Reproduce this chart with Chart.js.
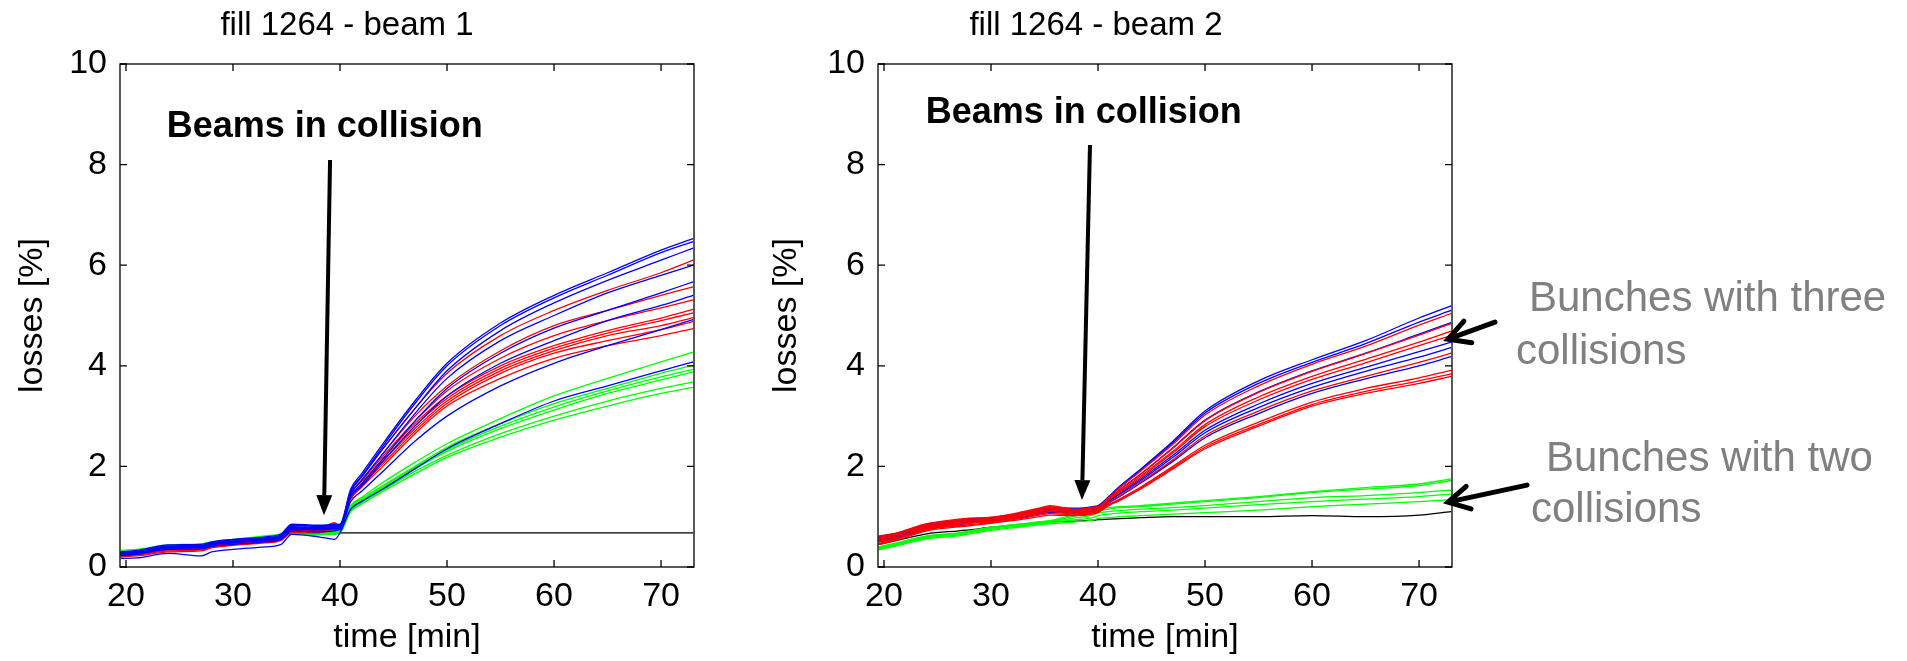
<!DOCTYPE html>
<html>
<head>
<meta charset="utf-8">
<script src="https://cdn.jsdelivr.net/npm/chart.js@4.4.0/dist/chart.umd.min.js"></script>
<style>
body { margin: 0; background: #fff; }
#wrap { position: relative; width: 1907px; height: 661px; overflow: hidden; background: #fff; }
#wrap canvas { position: absolute; top: 0; }
.note { position: absolute; font: 42px "Liberation Sans", Arial, sans-serif; color: #808080; line-height: 42px; white-space: nowrap; }
</style>
</head>
<body>
<div id="wrap">
  <canvas id="beam1" width="814" height="661" style="left:0px"></canvas>
  <canvas id="beam2" width="850" height="661" style="left:740px"></canvas>
  <div class="note" style="left:1529px;top:276px">Bunches with three</div>
  <div class="note" style="left:1516px;top:329px">collisions</div>
  <div class="note" style="left:1546px;top:436px">Bunches with two</div>
  <div class="note" style="left:1531px;top:487px">collisions</div>
</div>
<script>
// eixos
var xTicks = [20, 30, 40, 50, 60, 70];
var yTicks = [0, 2, 4, 6, 8, 10];

// tempos [min] : antes e depois da colisao
var tPre  = [19.5, 21, 24, 27, 28, 30, 33, 34.5, 35.5, 38, 39.5, 40];
var tPost = [41, 42, 44, 47, 50, 55, 60, 65, 70, 73];
var times = tPre.concat(tPost);

// beam 1 - perdas [%]
var b1Blue = [
  [0.30,0.33,0.44,0.45,0.50,0.55,0.60,0.66,0.85,0.83,0.84,0.85, 1.55,1.85,2.45,3.30,4.05,4.85,5.40,5.85,6.30,6.53],
  [0.28,0.31,0.42,0.43,0.48,0.54,0.58,0.64,0.83,0.81,0.82,0.83, 1.50,1.80,2.40,3.25,4.00,4.80,5.35,5.80,6.25,6.47],
  [0.27,0.30,0.40,0.42,0.47,0.52,0.57,0.62,0.80,0.79,0.80,0.81, 1.50,1.78,2.35,3.15,3.90,4.70,5.25,5.70,6.10,6.34],
  [0.25,0.29,0.39,0.40,0.46,0.50,0.55,0.60,0.78,0.77,0.79,0.80, 1.45,1.72,2.25,3.05,3.75,4.50,5.00,5.45,5.80,6.00],
  [0.26,0.28,0.38,0.40,0.45,0.49,0.54,0.59,0.76,0.75,0.78,0.79, 1.40,1.65,2.15,2.90,3.55,4.25,4.75,5.10,5.45,5.67],
  [0.24,0.27,0.37,0.39,0.44,0.48,0.53,0.58,0.75,0.74,0.76,0.78, 1.40,1.60,2.10,2.80,3.40,4.05,4.50,4.90,5.20,5.40],
  [0.22,0.25,0.35,0.36,0.41,0.45,0.50,0.55,0.72,0.70,0.72,0.75, 1.30,1.50,1.90,2.50,3.00,3.60,4.05,4.40,4.72,4.92],
  [0.17,0.18,0.27,0.22,0.30,0.35,0.40,0.45,0.65,0.60,0.55,0.68, 1.15,1.30,1.55,1.95,2.35,2.85,3.30,3.60,3.90,4.08]
];
var b1Red = [
  [0.28,0.30,0.40,0.42,0.46,0.51,0.56,0.61,0.78,0.76,0.88,0.82, 1.50,1.80,2.35,3.15,3.85,4.60,5.10,5.50,5.85,6.10],
  [0.27,0.29,0.38,0.40,0.45,0.50,0.55,0.60,0.76,0.75,0.86,0.81, 1.45,1.72,2.25,3.00,3.60,4.30,4.80,5.10,5.40,5.57],
  [0.26,0.28,0.37,0.39,0.44,0.49,0.54,0.59,0.75,0.74,0.85,0.80, 1.45,1.70,2.20,2.90,3.50,4.15,4.60,4.90,5.15,5.31],
  [0.25,0.27,0.36,0.38,0.43,0.48,0.53,0.58,0.74,0.73,0.84,0.79, 1.40,1.65,2.15,2.85,3.40,4.00,4.40,4.70,4.95,5.12],
  [0.24,0.26,0.35,0.37,0.42,0.47,0.52,0.57,0.73,0.72,0.82,0.78, 1.40,1.65,2.10,2.80,3.35,3.95,4.35,4.65,4.90,5.05],
  [0.23,0.25,0.34,0.36,0.41,0.46,0.51,0.56,0.72,0.71,0.80,0.77, 1.38,1.62,2.10,2.75,3.30,3.90,4.30,4.60,4.80,4.96],
  [0.22,0.24,0.32,0.34,0.40,0.45,0.50,0.55,0.70,0.70,0.78,0.76, 1.35,1.60,2.05,2.70,3.25,3.85,4.25,4.50,4.72,4.88],
  [0.20,0.22,0.30,0.32,0.38,0.43,0.48,0.53,0.68,0.68,0.75,0.75, 1.35,1.58,2.00,2.65,3.20,3.75,4.15,4.40,4.60,4.74]
];
var b1Green = [
  [0.33,0.35,0.44,0.46,0.50,0.55,0.62,0.66,0.75,0.72,0.73,0.74, 1.22,1.38,1.68,2.08,2.45,2.95,3.40,3.75,4.08,4.27],
  [0.30,0.32,0.41,0.43,0.47,0.52,0.58,0.62,0.72,0.70,0.71,0.72, 1.20,1.35,1.62,2.00,2.38,2.85,3.25,3.55,3.85,4.01],
  [0.28,0.30,0.39,0.41,0.45,0.50,0.56,0.60,0.70,0.68,0.69,0.71, 1.18,1.32,1.60,1.98,2.33,2.80,3.18,3.50,3.78,3.93],
  [0.26,0.28,0.37,0.39,0.43,0.48,0.54,0.58,0.68,0.66,0.68,0.70, 1.15,1.30,1.57,1.95,2.30,2.75,3.12,3.45,3.72,3.88],
  [0.24,0.26,0.35,0.37,0.41,0.46,0.52,0.56,0.67,0.65,0.67,0.69, 1.12,1.28,1.53,1.90,2.22,2.65,3.00,3.30,3.55,3.68],
  [0.22,0.25,0.33,0.35,0.40,0.45,0.50,0.55,0.66,0.64,0.66,0.68, 1.10,1.25,1.50,1.85,2.18,2.58,2.92,3.20,3.45,3.57]
];
var b1Black = [0.26,0.28,0.36,0.37,0.41,0.46,0.51,0.55,0.68,0.66,0.66,0.68, 0.68,0.68,0.68,0.68,0.68,0.68,0.68,0.68,0.68,0.68];

// beam 2 - perdas [%]
var b2Blue = [
  [0.60,0.66,0.85,0.93,0.96,0.98,1.08,1.15,1.18,1.17,1.20,1.22, 1.40,1.60,1.95,2.50,3.10,3.70,4.12,4.50,4.95,5.19],
  [0.58,0.64,0.83,0.91,0.94,0.97,1.06,1.13,1.16,1.15,1.18,1.20, 1.39,1.58,1.93,2.47,3.06,3.65,4.07,4.44,4.87,5.10],
  [0.56,0.62,0.81,0.89,0.92,0.95,1.04,1.11,1.14,1.13,1.16,1.18, 1.36,1.53,1.85,2.37,2.92,3.48,3.90,4.25,4.63,4.86],
  [0.54,0.60,0.79,0.87,0.90,0.93,1.02,1.09,1.12,1.11,1.14,1.16, 1.31,1.46,1.75,2.22,2.72,3.24,3.65,3.97,4.28,4.47],
  [0.52,0.58,0.77,0.85,0.88,0.92,1.00,1.07,1.10,1.09,1.12,1.14, 1.30,1.44,1.72,2.18,2.67,3.17,3.57,3.89,4.17,4.36],
  [0.50,0.56,0.75,0.84,0.87,0.91,0.99,1.05,1.08,1.07,1.10,1.12, 1.27,1.40,1.67,2.10,2.57,3.05,3.45,3.74,4.00,4.18]
];
var b2Red = [
  [0.62,0.67,0.86,0.95,0.97,0.99,1.10,1.17,1.22,1.14,1.19,1.20, 1.38,1.57,1.91,2.44,3.02,3.60,4.03,4.39,4.81,5.04],
  [0.59,0.65,0.84,0.93,0.95,0.97,1.08,1.15,1.20,1.12,1.17,1.18, 1.35,1.53,1.85,2.36,2.91,3.47,3.89,4.24,4.61,4.84],
  [0.57,0.63,0.82,0.91,0.93,0.95,1.06,1.13,1.18,1.10,1.15,1.16, 1.34,1.50,1.81,2.30,2.83,3.38,3.79,4.13,4.47,4.69],
  [0.55,0.61,0.80,0.89,0.91,0.93,1.04,1.11,1.16,1.09,1.13,1.15, 1.33,1.48,1.78,2.27,2.79,3.32,3.73,4.06,4.40,4.60],
  [0.52,0.58,0.78,0.87,0.89,0.91,1.02,1.09,1.13,1.07,1.11,1.13, 1.28,1.41,1.69,2.13,2.61,3.10,3.50,3.79,4.07,4.25],
  [0.50,0.56,0.76,0.85,0.87,0.90,1.00,1.06,1.10,1.05,1.09,1.11, 1.24,1.35,1.59,2.00,2.42,2.88,3.28,3.55,3.76,3.91],
  [0.47,0.54,0.74,0.82,0.84,0.88,0.97,1.03,1.06,1.03,1.07,1.09, 1.23,1.33,1.57,1.97,2.38,2.83,3.23,3.49,3.70,3.84],
  [0.45,0.52,0.72,0.80,0.82,0.87,0.95,1.00,1.03,1.02,1.05,1.08, 1.22,1.32,1.55,1.95,2.35,2.80,3.20,3.45,3.65,3.79]
];
var b2Green = [
  [0.40,0.47,0.62,0.68,0.72,0.79,0.86,0.90,0.92,1.05,1.10,1.15, 1.18,1.20,1.22,1.27,1.32,1.40,1.50,1.58,1.65,1.75],
  [0.39,0.46,0.61,0.67,0.71,0.78,0.85,0.89,0.91,1.02,1.08,1.12, 1.15,1.18,1.20,1.25,1.30,1.38,1.48,1.55,1.62,1.72],
  [0.37,0.44,0.60,0.66,0.70,0.77,0.84,0.88,0.90,0.98,1.03,1.07, 1.10,1.12,1.15,1.18,1.22,1.30,1.38,1.42,1.48,1.53],
  [0.36,0.43,0.58,0.64,0.68,0.75,0.82,0.86,0.88,0.94,0.98,1.02, 1.05,1.07,1.10,1.13,1.17,1.24,1.30,1.35,1.40,1.45],
  [0.34,0.41,0.56,0.62,0.66,0.73,0.80,0.84,0.86,0.90,0.93,0.96, 0.98,1.00,1.02,1.05,1.08,1.13,1.20,1.25,1.30,1.34]
];
var b2Black = [0.45,0.52,0.66,0.72,0.74,0.79,0.85,0.88,0.90,0.91,0.93,0.94, 0.95,0.96,0.98,1.00,1.00,1.00,1.02,1.00,1.03,1.10];

var FONT = '"Liberation Sans", Arial, sans-serif';

function linhas(grupo, cor) {
  return grupo.map(function (v) {
    return {
      data: times.map(function (t, i) { return { x: t, y: v[i] }; }),
      borderColor: cor, borderWidth: 1.3, pointRadius: 0, fill: false
    };
  });
}

// moldura + ticks para dentro (estilo matlab)
var moldura = {
  id: 'moldura',
  afterDatasetsDraw: function (chart) {
    var a = chart.chartArea, ctx = chart.ctx, sx = chart.scales.x, sy = chart.scales.y, L = 7;
    ctx.save();
    ctx.strokeStyle = '#000';
    ctx.lineWidth = 1.3;
    ctx.strokeRect(a.left, a.top, a.right - a.left, a.bottom - a.top);
    ctx.beginPath();
    xTicks.forEach(function (v) {
      var p = sx.getPixelForValue(v);
      ctx.moveTo(p, a.bottom); ctx.lineTo(p, a.bottom - L);
      ctx.moveTo(p, a.top); ctx.lineTo(p, a.top + L);
    });
    yTicks.forEach(function (v) {
      var p = sy.getPixelForValue(v);
      ctx.moveTo(a.left, p); ctx.lineTo(a.left + L, p);
      ctx.moveTo(a.right, p); ctx.lineTo(a.right - L, p);
    });
    ctx.stroke();
    ctx.restore();
  }
};

// anotacoes: texto + setas
var notas = {
  id: 'notas',
  afterDraw: function (chart, args, o) {
    if (!o || !o.texto) return;
    var ctx = chart.ctx, sx = chart.scales.x, sy = chart.scales.y, a = chart.chartArea;
    ctx.save();
    ctx.fillStyle = '#000';
    ctx.strokeStyle = '#000';
    ctx.font = 'bold 36px ' + FONT;
    ctx.textBaseline = 'middle';
    ctx.textAlign = 'left';
    ctx.fillText(o.texto, sx.getPixelForValue(o.tx), sy.getPixelForValue(o.ty));

    // seta cheia
    var x0 = sx.getPixelForValue(o.de[0]), y0 = sy.getPixelForValue(o.de[1]);
    var x1 = sx.getPixelForValue(o.para[0]), y1 = sy.getPixelForValue(o.para[1]);
    var ang = Math.atan2(y1 - y0, x1 - x0), hl = 20, hw = 8;
    var bx = x1 - hl * Math.cos(ang), by = y1 - hl * Math.sin(ang);
    ctx.lineWidth = 4;
    ctx.beginPath(); ctx.moveTo(x0, y0); ctx.lineTo(bx, by); ctx.stroke();
    ctx.beginPath();
    ctx.moveTo(x1, y1);
    ctx.lineTo(bx + hw * Math.sin(ang), by - hw * Math.cos(ang));
    ctx.lineTo(bx - hw * Math.sin(ang), by + hw * Math.cos(ang));
    ctx.closePath(); ctx.fill();

    // setas laterais (abertas)
    (o.lado || []).forEach(function (s) {
      var tx = a.right - 4, ty = sy.getPixelForValue(s.y);
      var fx = tx + s.dx, fy = ty + s.dy;
      var an = Math.atan2(ty - fy, tx - fx), bl = 24;
      ctx.lineWidth = 5;
      ctx.lineCap = 'round';
      ctx.beginPath();
      ctx.moveTo(fx, fy); ctx.lineTo(tx, ty);
      ctx.moveTo(tx - bl * Math.cos(an - 0.5), ty - bl * Math.sin(an - 0.5));
      ctx.lineTo(tx, ty);
      ctx.lineTo(tx - bl * Math.cos(an + 0.5), ty - bl * Math.sin(an + 0.5));
      ctx.stroke();
    });
    ctx.restore();
  }
};

function grafico(id, titulo, datasets, padDireita, largY, padTituloY, nota) {
  return new Chart(document.getElementById(id), {
    type: 'line',
    data: { datasets: datasets },
    plugins: [moldura, notas],
    options: {
      responsive: false,
      animation: false,
      devicePixelRatio: 1,
      layout: { padding: { left: 0, right: padDireita, top: 0, bottom: 0 } },
      elements: { line: { cubicInterpolationMode: 'monotone' }, point: { radius: 0 } },
      plugins: {
        legend: { display: false },
        tooltip: { enabled: false },
        title: {
          display: true, text: titulo, color: '#000',
          font: { family: FONT, size: 33, weight: 'normal' },
          padding: { top: 6, bottom: 18.4 }
        },
        notas: nota
      },
      scales: {
        x: {
          type: 'linear', min: 19.44, max: 73.08,
          grid: { display: false, drawTicks: false },
          border: { display: false },
          ticks: { color: '#000', font: { family: FONT, size: 34 }, padding: 9, autoSkip: false, maxRotation: 0 },
          afterBuildTicks: function (s) { s.ticks = xTicks.map(function (v) { return { value: v }; }); },
          afterFit: function (s) { s.height = 94; },
          title: { display: true, text: 'time [min]', color: '#000', font: { family: FONT, size: 34 }, padding: { top: 0, bottom: 2.6 } }
        },
        y: {
          type: 'linear', min: 0, max: 10,
          grid: { display: false, drawTicks: false },
          border: { display: false },
          ticks: { color: '#000', font: { family: FONT, size: 34 }, padding: 13, autoSkip: false },
          afterBuildTicks: function (s) { s.ticks = yTicks.map(function (v) { return { value: v }; }); },
          afterFit: function (s) { s.width = largY; },
          title: { display: true, text: 'losses [%]', color: '#000', font: { family: FONT, size: 34 }, padding: { top: padTituloY, bottom: 0 } }
        }
      }
    }
  });
}

var preto1 = { data: times.map(function (t, i) { return { x: t, y: b1Black[i] }; }), borderColor: '#000', borderWidth: 1.3, pointRadius: 0 };
var preto2 = { data: times.map(function (t, i) { return { x: t, y: b2Black[i] }; }), borderColor: '#000', borderWidth: 1.3, pointRadius: 0 };

grafico('beam1', 'fill 1264 - beam 1',
  [].concat(linhas(b1Blue, '#0000ff'), linhas(b1Red, '#ff0000'), linhas(b1Green, '#00ff00'), [preto1]),
  120, 120, 12.6,
  { texto: 'Beams in collision', tx: 23.8, ty: 8.75, de: [39.07, 8.09], para: [38.5, 1.03] });

grafico('beam2', 'fill 1264 - beam 2',
  [].concat(linhas(b2Red, '#ff0000'), linhas(b2Blue, '#0000ff'), linhas(b2Green, '#00ff00'), [preto2]),
  138, 138, 26.6,
  { texto: 'Beams in collision', tx: 23.9, ty: 9.03, de: [39.25, 8.39], para: [38.5, 1.33],
    lado: [{ y: 4.53, dx: 47, dy: -17 }, { y: 1.29, dx: 79, dy: -17 }] });
</script>
</body>
</html>
